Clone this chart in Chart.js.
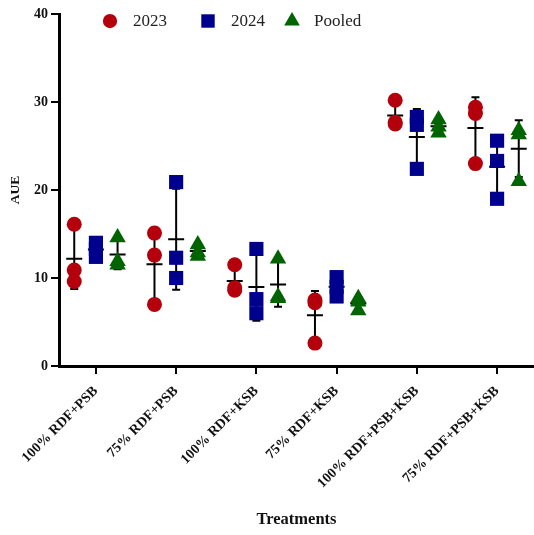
<!DOCTYPE html>
<html>
<head>
<meta charset="utf-8">
<script src="https://cdn.jsdelivr.net/npm/chart.js@4.4.0/dist/chart.umd.min.js"></script>
<style>
  html, body { margin: 0; padding: 0; background: #fff; }
</style>
</head>
<body>
<canvas id="aueChart" width="534" height="535"></canvas>
<script>
// treatments on the x axis
const treatments = ['100% RDF+PSB', '75% RDF+PSB', '100% RDF+KSB', '75% RDF+KSB', '100% RDF+PSB+KSB', '75% RDF+PSB+KSB'];

// AUE replicates per treatment
const aue2023 = [[16.1, 10.9, 9.6], [15.1, 12.6, 7.0], [11.5, 8.9, 8.6], [7.5, 7.2, 2.6], [30.2, 27.7, 27.5], [29.4, 28.7, 23.0]];
const aue2024 = [[14.0, 13.3, 12.4], [20.9, 12.3, 10.0], [13.3, 7.6, 6.0], [10.1, 9.0, 7.9], [28.3, 27.4, 22.4], [25.6, 23.3, 19.0]];
const auePooled = [[14.6, 11.9, 11.5], [13.8, 12.9, 12.5], [12.2, 7.9, 7.7], [7.7, 7.3, 6.3], [28.0, 27.2, 26.5], [26.8, 26.3, 21.0]];

const yTicks = [0, 10, 20, 30, 40];

const FONT = "'Liberation Serif', 'Times New Roman', serif";

const series = [
  { label: '2023', values: aue2023, color: '#b3000c', style: 'circle', radius: 7.5, shift: -0.27 },
  { label: '2024', values: aue2024, color: '#00008f', style: 'rect', radius: 10, shift: 0 },
  { label: 'Pooled', values: auePooled, color: '#006400', style: 'triangle', radius: 9.5, shift: 0.27 }
];

// mean +/- SD bars, drawn under the markers
const errorBars = {
  id: 'errorBars',
  beforeDatasetsDraw(chart) {
    const { ctx, scales: { x, y } } = chart;
    ctx.save();
    ctx.strokeStyle = '#000';
    ctx.lineWidth = 2;
    series.forEach(s => {
      s.values.forEach((reps, i) => {
        const mean = reps.reduce((a, b) => a + b, 0) / reps.length;
        const sd = Math.sqrt(reps.reduce((a, b) => a + (b - mean) ** 2, 0) / (reps.length - 1));
        const px = x.getPixelForValue(i + 1 + s.shift);
        const top = y.getPixelForValue(mean + sd);
        const bot = y.getPixelForValue(mean - sd);
        const mid = y.getPixelForValue(mean);
        ctx.beginPath();
        ctx.moveTo(px, top); ctx.lineTo(px, bot);
        ctx.moveTo(px - 4, top); ctx.lineTo(px + 4, top);
        ctx.moveTo(px - 4, bot); ctx.lineTo(px + 4, bot);
        ctx.moveTo(px - 8, mid); ctx.lineTo(px + 8, mid);
        ctx.stroke();
      });
    });
    ctx.restore();
  }
};

// legend sitting inside the top of the plot
const legendTop = {
  id: 'legendTop',
  afterDraw(chart) {
    const ctx = chart.ctx;
    const spots = [[110, 133], [208, 231], [292, 314]];
    ctx.save();
    ctx.font = '17px ' + FONT;
    ctx.textBaseline = 'middle';
    series.forEach((s, i) => {
      ctx.fillStyle = s.color;
      Chart.helpers.drawPoint(ctx, { pointStyle: s.style, rotation: 0, radius: s.radius * 0.95, borderWidth: 0 }, spots[i][0], 21);
      ctx.fillStyle = '#222';
      ctx.fillText(s.label, spots[i][1], 22);
    });
    ctx.restore();
  }
};

const ctx = document.getElementById('aueChart').getContext('2d');
new Chart(ctx, {
  type: 'scatter',
  data: {
    datasets: series.map(s => ({
      label: s.label,
      data: s.values.flatMap((reps, i) => reps.map(v => ({ x: i + 1 + s.shift, y: v }))),
      pointStyle: s.style,
      pointRadius: s.radius,
      backgroundColor: s.color,
      borderColor: s.color,
      borderWidth: 0
    }))
  },
  options: {
    responsive: false,
    animation: false,
    layout: { autoPadding: false, padding: { top: 14, left: 0, right: 0, bottom: 0 } },
    plugins: { legend: { display: false }, tooltip: { enabled: false } },
    scales: {
      x: {
        type: 'linear',
        min: 0.54,
        max: 6.46,
        afterBuildTicks: axis => { axis.ticks = treatments.map((_, i) => ({ value: i + 1 })); },
        afterFit: axis => {
          axis.height = 169;
          axis.paddingLeft = 0;
          axis.paddingRight = 0;
        },
        border: { color: '#000', width: 3 },
        grid: { drawOnChartArea: false, color: '#000', lineWidth: 2, tickLength: 8 },
        ticks: {
          color: '#111',
          font: { family: FONT, size: 14, weight: 'bold' },
          minRotation: 45,
          maxRotation: 45,
          padding: 9,
          callback: v => treatments[v - 1]
        },
        title: {
          display: true,
          text: 'Treatments',
          color: '#111',
          font: { family: FONT, size: 16.5, weight: 'bold' },
          padding: { top: 4, bottom: 5 }
        }
      },
      y: {
        min: 0,
        max: 40,
        afterBuildTicks: axis => { axis.ticks = yTicks.map(v => ({ value: v })); },
        afterFit: axis => { axis.width = 59; },
        border: { color: '#000', width: 3 },
        grid: { drawOnChartArea: false, color: '#000', lineWidth: 2, tickLength: 8 },
        ticks: {
          color: '#111',
          font: { family: FONT, size: 14, weight: 'bold' },
          padding: 3
        },
        title: {
          display: true,
          text: 'AUE',
          color: '#111',
          font: { family: FONT, size: 13.5, weight: 'bold' },
          padding: { top: 7, bottom: 0 }
        }
      }
    }
  },
  plugins: [errorBars, legendTop]
});
</script>
</body>
</html>
